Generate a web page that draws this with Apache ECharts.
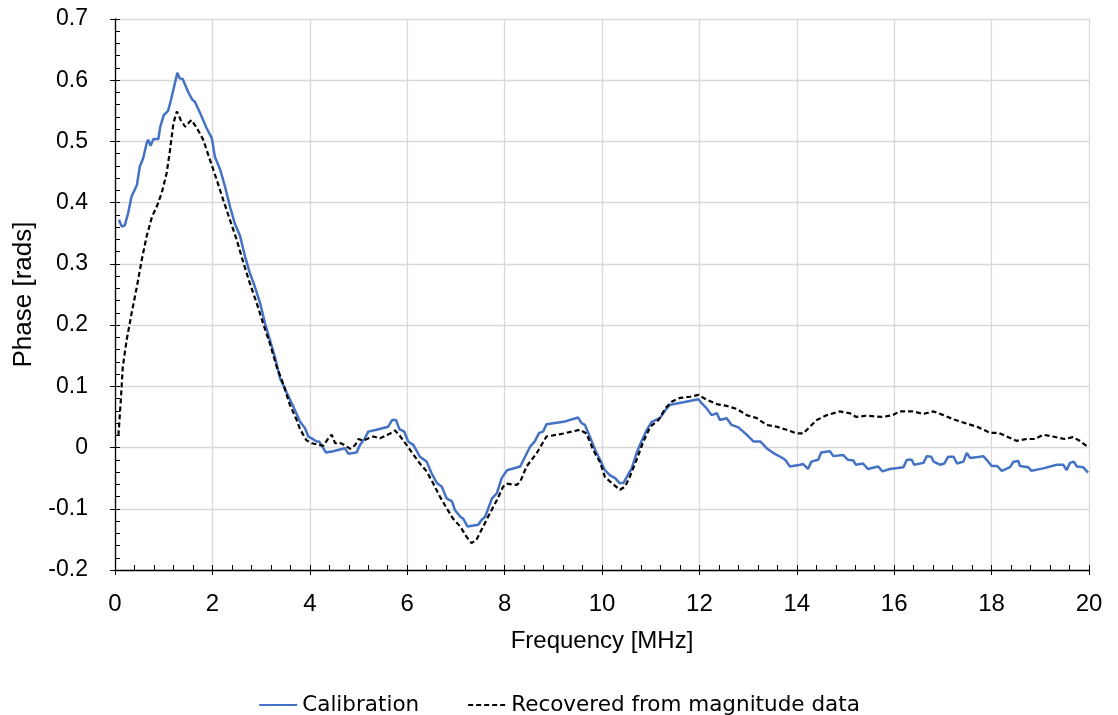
<!DOCTYPE html>
<html><head><meta charset="utf-8">
<script src="https://cdn.jsdelivr.net/npm/echarts@6/dist/echarts.min.js"></script>
<style>html,body{margin:0;padding:0;background:#fff}#c{width:1118px;height:715px}</style>
</head><body><div id="c"></div>
<script>
const calX = [0.08,0.14,0.2,0.27,0.34,0.45,0.51,0.58,0.65,0.68,0.73,0.79,0.89,0.93,1.0,1.09,1.15,1.23,1.28,1.33,1.39,1.50,1.59,1.64,1.75,1.88,1.99,2.05,2.16,2.26,2.36,2.46,2.57,2.67,2.77,2.87,2.98,3.08,3.18,3.29,3.39,3.53,3.66,3.80,3.90,3.97,4.04,4.14,4.19,4.24,4.33,4.48,4.72,4.79,4.96,5.03,5.13,5.20,5.37,5.61,5.69,5.77,5.84,5.94,6.02,6.13,6.26,6.40,6.50,6.61,6.71,6.81,6.92,6.98,7.09,7.15,7.24,7.46,7.53,7.60,7.74,7.84,7.94,8.05,8.32,8.42,8.52,8.62,8.71,8.79,8.86,9.21,9.51,9.58,9.65,9.75,9.86,9.96,10.06,10.16,10.27,10.36,10.44,10.51,10.61,10.71,10.82,10.92,11.02,11.19,11.30,11.40,11.67,11.98,12.05,12.15,12.25,12.36,12.42,12.56,12.66,12.80,12.90,13.01,13.11,13.25,13.38,13.52,13.66,13.76,13.86,14.07,14.13,14.23,14.30,14.44,14.50,14.68,14.75,14.95,15.05,15.16,15.21,15.36,15.46,15.67,15.76,15.91,16.19,16.26,16.36,16.41,16.60,16.67,16.76,16.81,16.94,17.03,17.11,17.22,17.29,17.42,17.49,17.56,17.76,17.83,17.90,18.00,18.11,18.21,18.38,18.45,18.55,18.58,18.75,18.82,19.06,19.34,19.47,19.54,19.61,19.69,19.75,19.88,19.98];
const calY = [0.372,0.361,0.363,0.383,0.41,0.429,0.459,0.473,0.497,0.503,0.493,0.504,0.504,0.524,0.543,0.55,0.568,0.595,0.612,0.603,0.602,0.581,0.568,0.565,0.546,0.522,0.505,0.475,0.454,0.426,0.394,0.366,0.345,0.312,0.285,0.263,0.236,0.203,0.176,0.146,0.113,0.089,0.067,0.042,0.032,0.018,0.015,0.01,0.01,0.004,-0.008,-0.006,-0.001,-0.01,-0.008,0.004,0.015,0.026,0.029,0.034,0.045,0.045,0.03,0.026,0.01,0.004,-0.015,-0.023,-0.042,-0.058,-0.064,-0.083,-0.088,-0.102,-0.113,-0.116,-0.129,-0.126,-0.118,-0.113,-0.083,-0.075,-0.05,-0.037,-0.031,-0.015,0.001,0.01,0.024,0.026,0.038,0.042,0.049,0.04,0.037,0.018,-0.004,-0.02,-0.037,-0.045,-0.05,-0.058,-0.058,-0.048,-0.034,-0.009,0.012,0.029,0.042,0.048,0.061,0.07,0.074,0.079,0.072,0.064,0.053,0.056,0.045,0.048,0.037,0.033,0.026,0.018,0.01,0.01,-0.001,-0.009,-0.015,-0.02,-0.031,-0.028,-0.027,-0.035,-0.023,-0.02,-0.008,-0.006,-0.014,-0.012,-0.02,-0.021,-0.028,-0.026,-0.035,-0.031,-0.039,-0.035,-0.032,-0.02,-0.02,-0.028,-0.025,-0.014,-0.015,-0.023,-0.028,-0.026,-0.015,-0.015,-0.026,-0.023,-0.009,-0.017,-0.015,-0.014,-0.02,-0.03,-0.03,-0.038,-0.032,-0.023,-0.022,-0.03,-0.032,-0.038,-0.034,-0.028,-0.028,-0.037,-0.025,-0.023,-0.031,-0.032,-0.041];
const recX = [0.07,0.12,0.16,0.24,0.34,0.45,0.55,0.65,0.76,0.86,0.96,1.06,1.13,1.20,1.27,1.35,1.44,1.51,1.57,1.68,1.81,1.95,2.09,2.22,2.36,2.50,2.64,2.77,2.91,3.04,3.18,3.32,3.45,3.59,3.73,3.80,3.93,4.04,4.21,4.28,4.38,4.45,4.52,4.61,4.69,4.83,4.93,5.00,5.10,5.20,5.31,5.44,5.65,5.75,5.85,5.99,6.13,6.26,6.40,6.53,6.67,6.81,6.94,7.09,7.22,7.32,7.42,7.56,7.70,7.84,7.97,8.04,8.25,8.32,8.45,8.66,8.86,9.21,9.55,9.68,9.82,9.96,10.06,10.20,10.37,10.47,10.57,10.71,10.85,10.99,11.16,11.30,11.43,11.60,11.81,11.98,12.15,12.36,12.56,12.77,12.97,13.18,13.38,13.59,13.79,14.00,14.13,14.27,14.41,14.62,14.88,15.09,15.22,15.42,15.77,15.97,16.11,16.38,16.60,16.81,17.01,17.22,17.49,17.70,17.97,18.14,18.31,18.51,18.72,18.89,19.06,19.26,19.50,19.67,19.81,19.98];
const recY = [0.02,0.078,0.132,0.176,0.219,0.263,0.307,0.345,0.377,0.394,0.416,0.448,0.486,0.53,0.549,0.535,0.524,0.53,0.535,0.522,0.503,0.47,0.437,0.405,0.372,0.339,0.301,0.268,0.236,0.203,0.170,0.132,0.105,0.07,0.045,0.03,0.012,0.007,0.004,0.003,0.015,0.021,0.007,0.008,0.005,-0.002,0.004,0.014,0.011,0.015,0.018,0.015,0.023,0.028,0.019,0.004,-0.012,-0.026,-0.039,-0.058,-0.08,-0.099,-0.116,-0.129,-0.146,-0.156,-0.151,-0.129,-0.107,-0.086,-0.064,-0.059,-0.061,-0.056,-0.031,-0.009,0.018,0.023,0.029,0.023,-0.004,-0.024,-0.048,-0.058,-0.069,-0.064,-0.048,-0.02,0.01,0.034,0.045,0.064,0.075,0.081,0.083,0.086,0.078,0.071,0.068,0.063,0.053,0.048,0.037,0.034,0.029,0.023,0.023,0.034,0.045,0.053,0.059,0.056,0.05,0.052,0.05,0.053,0.059,0.059,0.055,0.059,0.053,0.046,0.039,0.034,0.024,0.024,0.018,0.011,0.014,0.014,0.021,0.018,0.014,0.017,0.011,0.001];
const seriesNames = ['Calibration', 'Recovered from magnitude data'];
const xTitle = 'Frequency [MHz]';
const yTitle = 'Phase [rads]';

const zip = (a, b) => a.map((v, i) => [v, b[i]]);
const wide = "'DejaVu Sans',sans-serif";
const reg = "'Liberation Sans',Arial,sans-serif";
const chart = echarts.init(document.getElementById('c'), null, {renderer: 'canvas'});
chart.setOption({
  animation: false,
  backgroundColor: '#fff',
  grid: {left: 115, right: 29, top: 19, bottom: 145, containLabel: false},
  legend: {
    left: 'center', top: 689,
    itemWidth: 38, itemHeight: 14, itemGap: 48,
    itemStyle: {opacity: 0},
    textStyle: {fontFamily: wide, fontSize: 21.5, color: '#000'},
    data: seriesNames
  },
  xAxis: [{
    type: 'value', min: 0, max: 20, interval: 2,
    name: xTitle, nameLocation: 'middle', nameGap: 59,
    nameTextStyle: {fontFamily: reg, fontSize: 24, color: '#000'},
    axisLine: {onZero: false, lineStyle: {color: '#000', width: 1.3}},
    axisTick: {show: true, inside: false, length: 5, lineStyle: {color: '#000'}},
    axisLabel: {fontFamily: reg, fontSize: 24, color: '#000', margin: 22},
    splitLine: {show: true, lineStyle: {color: '#d9d9d9', width: 1.3}}
  }, {
    type: 'value', min: 0, max: 20, interval: 2, position: 'bottom',
    axisLine: {show: false, onZero: false},
    axisTick: {show: true, inside: true, length: 5, lineStyle: {color: '#000'}},
    minorTick: {show: true, splitNumber: 5, length: 5, lineStyle: {color: '#000'}},
    axisLabel: {show: false}, splitLine: {show: false}
  }],
  yAxis: [{
    type: 'value', min: -0.2, max: 0.7, interval: 0.1,
    name: yTitle, nameLocation: 'middle', nameGap: 78,
    nameTextStyle: {fontFamily: reg, fontSize: 26, color: '#000'},
    axisLine: {show: true, onZero: false, lineStyle: {color: '#000', width: 1.3}},
    axisTick: {show: true, inside: false, length: 5, lineStyle: {color: '#000'}},
    axisLabel: {fontFamily: reg, fontSize: 23, color: '#000', margin: 27,
      formatter: v => (Math.round(v * 10) / 10).toString()},
    splitLine: {show: true, lineStyle: {color: '#d9d9d9', width: 1.3}}
  }, {
    type: 'value', min: -0.2, max: 0.7, interval: 0.1, position: 'left',
    axisLine: {show: false, onZero: false},
    axisTick: {show: true, inside: true, length: 5, lineStyle: {color: '#000'}},
    minorTick: {show: true, splitNumber: 5, length: 5, lineStyle: {color: '#000'}},
    axisLabel: {show: false}, splitLine: {show: false}
  }],
  series: [{
    name: seriesNames[0], type: 'line', showSymbol: false, symbol: 'none',
    data: zip(calX, calY),
    lineStyle: {color: '#4472C4', width: 2.5}, itemStyle: {color: '#4472C4'}
  }, {
    name: seriesNames[1], type: 'line', showSymbol: false, symbol: 'none',
    data: zip(recX, recY),
    lineStyle: {color: '#000', width: 2.2, type: [5, 3]}, itemStyle: {color: '#000'}
  }]
});
</script></body></html>
